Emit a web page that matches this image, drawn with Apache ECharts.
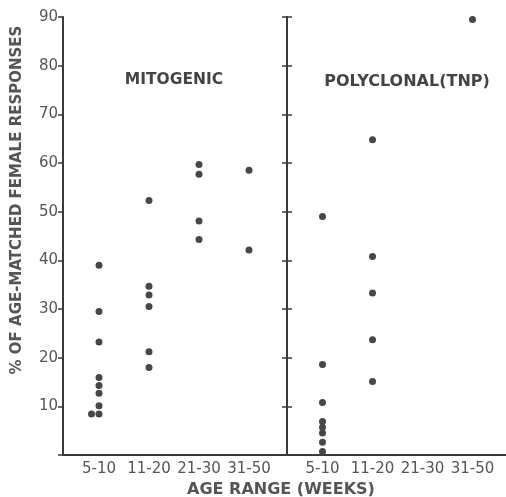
<!DOCTYPE html>
<html lang="en">
<head>
    <meta charset="UTF-8">
    <title>Age-matched female responses</title>
    <script src="https://cdn.jsdelivr.net/npm/echarts@6/dist/echarts.min.js"></script>
    <style>
        html, body { margin: 0; padding: 0; background: #fff; }
        #paint { width: 506px; height: 497px; }
    </style>
</head>
<body>
<div id="paint"></div>
<script type="text/javascript">
    // age groups (weeks) along the x axis of both panels
    var categories = ['5-10', '11-20', '21-30', '31-50'];
    var yTicks = [10, 20, 30, 40, 50, 60, 70, 80, 90];

    // % of age-matched female responses, one list per age group
    var mitogenic = [
        [39, 29.5, 23.2, 15.9, 14.3, 12.7, 10.1, 8.4, 8.4],
        [52.3, 34.7, 32.9, 30.5, 21.2, 18],
        [59.7, 57.7, 48.1, 44.3],
        [58.5, 42.1]
    ];
    // the two dots at ~8% in 5-10 sit side by side
    var mitogenicShift = [
        [0, 0, 0, 0, 0, 0, 0, 0, -0.15],
        [0, 0, 0, 0, 0, 0],
        [0, 0, 0, 0],
        [0, 0]
    ];
    var polyclonal = [
        [49, 18.6, 10.8, 6.9, 5.7, 4.5, 2.6, 0.7],
        [64.8, 40.8, 33.3, 23.7, 15.1],
        [],
        [89.5]
    ];

    function toPoints(groups, shift) {
        var pts = [];
        groups.forEach(function (vals, i) {
            vals.forEach(function (v, j) {
                pts.push([i + (shift ? shift[i][j] : 0), v]);
            });
        });
        return pts;
    }

    var ink = '#3a3a3a';
    var textColor = '#555';
    var font = 'DejaVu Sans';

    function xAxis(idx, min, max) {
        return {
            type: 'value', gridIndex: idx, min: min, max: max,
            axisLine: { show: true, onZero: false, lineStyle: { color: ink, width: 2 } },
            axisTick: { show: false },
            splitLine: { show: false },
            axisLabel: {
                customValues: [0, 1, 2, 3],
                margin: 7,
                color: textColor, fontFamily: font, fontSize: 15,
                formatter: function (v) { return categories[Math.round(v)]; }
            }
        };
    }

    function yAxis(idx, labels, tickInside) {
        return {
            type: 'value', gridIndex: idx, min: 0, max: 90, interval: 10,
            position: 'left',
            axisLine: { show: true, onZero: false, lineStyle: { color: ink, width: 2 } },
            axisTick: { show: true, inside: tickInside, length: 5, lineStyle: { color: ink, width: 1.5 } },
            splitLine: { show: false },
            axisLabel: {
                show: labels, margin: 5,
                color: textColor, fontFamily: font, fontSize: 15,
                formatter: function (v) { return yTicks.indexOf(v) >= 0 ? String(v) : ''; }
            }
        };
    }

    var myChart = echarts.init(document.getElementById('paint'), null, { renderer: 'canvas' });

    var option = {
        animation: false,
        backgroundColor: '#fff',
        grid: [
            { left: 63, top: 17, width: 223, height: 438 },
            { left: 287, top: 17, width: 219, height: 438 }
        ],
        xAxis: [xAxis(0, -0.72, 3.74), xAxis(1, -0.71, 3.67)],
        yAxis: [yAxis(0, true, false), yAxis(1, false, false), yAxis(1, false, true)],
        graphic: [
            {
                type: 'text', x: 17, y: 200, rotation: Math.PI / 2,
                style: {
                    text: '% OF AGE-MATCHED FEMALE RESPONSES',
                    fill: textColor, font: 'bold 15px "DejaVu Sans"',
                    align: 'center', verticalAlign: 'middle'
                }
            },
            {
                type: 'text', x: 281, y: 490,
                style: {
                    text: 'AGE RANGE (WEEKS)',
                    fill: textColor, font: 'bold 16px "DejaVu Sans"',
                    align: 'center', verticalAlign: 'middle'
                }
            },
            {
                type: 'text', x: 174, y: 80,
                style: {
                    text: 'MITOGENIC',
                    fill: '#444', font: 'bold 15.5px "DejaVu Sans"',
                    align: 'center', verticalAlign: 'middle'
                }
            },
            {
                type: 'text', x: 407, y: 82,
                style: {
                    text: 'POLYCLONAL(TNP)',
                    fill: '#444', font: 'bold 16px "DejaVu Sans"',
                    align: 'center', verticalAlign: 'middle'
                }
            }
        ],
        series: [
            {
                name: 'MITOGENIC', type: 'scatter', xAxisIndex: 0, yAxisIndex: 0,
                symbolSize: 7, itemStyle: { color: '#474747', opacity: 1 },
                data: toPoints(mitogenic, mitogenicShift)
            },
            {
                name: 'POLYCLONAL(TNP)', type: 'scatter', xAxisIndex: 1, yAxisIndex: 1,
                symbolSize: 7, itemStyle: { color: '#474747', opacity: 1 },
                data: toPoints(polyclonal)
            }
        ]
    };
    myChart.setOption(option);
</script>
</body>
</html>
